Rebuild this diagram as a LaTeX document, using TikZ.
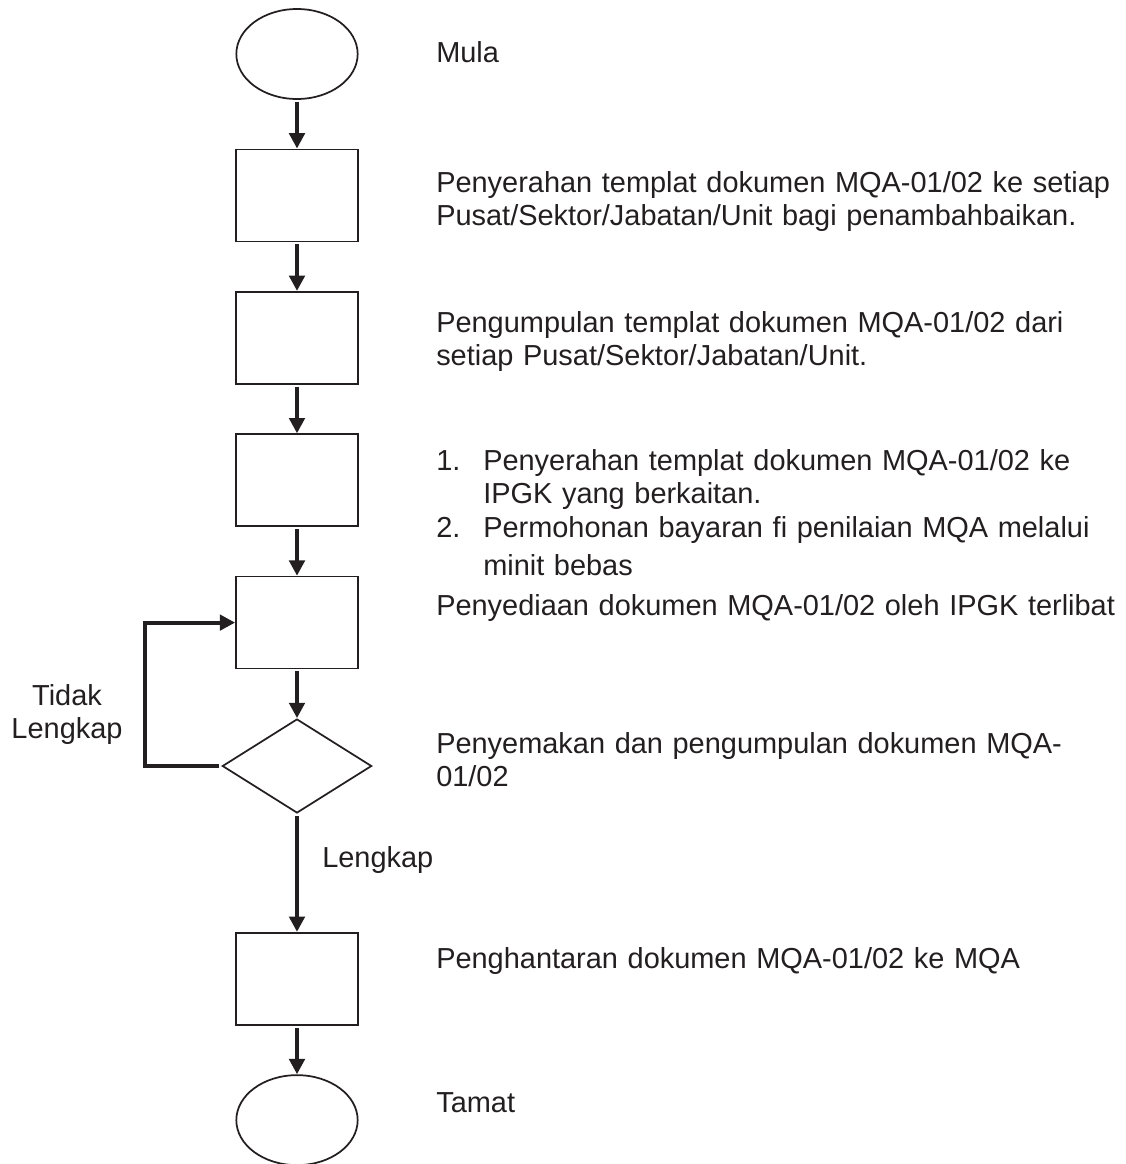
\documentclass[tikz,border=0pt]{standalone}
\usepackage{fontspec}
\setmainfont{Liberation Sans}
\usetikzlibrary{shapes.geometric, arrows.meta, positioning}

\definecolor{ink}{RGB}{35,31,32}

\begin{document}
\begin{tikzpicture}[
    x=0.75pt, y=-0.75pt,
    node distance=36.5pt,
    term/.style={ellipse, draw=ink, line width=1.3pt, inner sep=0pt, minimum width=91pt, minimum height=67.5pt},
    box/.style={rectangle, draw=ink, line width=1.3pt, inner sep=0pt, minimum width=91.5pt, minimum height=69pt},
    check/.style={diamond, draw=ink, line width=1.3pt, inner sep=0pt, minimum width=112pt, minimum height=70.5pt},
    desc/.style={anchor=base west, inner sep=0pt, text width=560pt, align=left, text=ink, font=\fontsize{21.7}{24.75}\selectfont},
    tag/.style={inner sep=0pt, text=ink, font=\fontsize{21.7}{24.75}\selectfont},
    arrow/.style={-{Triangle[length=11.5pt, width=11.5pt]}, draw=ink, line width=3pt, shorten <=1.5pt}
  ]
  \useasboundingbox (0,0) rectangle (1126,1164);

  % ============ FLOW ============
  \node[term] (start) at (297,54) {};
  \node[box, below=of start] (send) {};
  \node[box, below=of send] (collect) {};
  \node[box, below=of collect] (forward) {};
  \node[box, below=of forward] (prepare) {};
  \node[check, below=of prepare] (review) {};
  \node[box, below=88.5pt of review] (deliver) {};
  \node[term, below=of deliver] (finish) {};

  % Arrows
  \draw[arrow] (start) -- (send);
  \draw[arrow] (send) -- (collect);
  \draw[arrow] (collect) -- (forward);
  \draw[arrow] (forward) -- (prepare);
  \draw[arrow] (prepare) -- (review);
  \draw[arrow] (review) -- (deliver);
  \draw[arrow] (deliver) -- (finish);

  % Loop back (Tidak Lengkap)
  \coordinate[xshift=-57pt] (back) at (review.west);
  \draw[arrow] (review.west) -- (back) |- (prepare.west);

  \node[tag, text width=100pt, align=center, anchor=base] (t-no) at (67,705) {Tidak\\Lengkap};
  \node[tag, anchor=base west] (t-yes) at (322,867) {Lengkap};

  % ============ DESCRIPTIONS ============
  \node[desc] (t-start) at (436,62) {Mula};
  \node[desc] (t-send) at (436,192) {Penyerahan templat dokumen MQA-01/02 ke setiap\\Pusat/Sektor/Jabatan/Unit bagi penambahbaikan.};
  \node[desc] (t-collect) at (436,332) {Pengumpulan templat dokumen MQA-01/02 dari\\setiap Pusat/Sektor/Jabatan/Unit.};
  \node[desc] (t-forward) at (436,470) {%
    \makebox[35.25pt][l]{1.}Penyerahan templat dokumen MQA-01/02 ke\\
    \hspace*{35.25pt}IPGK yang berkaitan.\\[0.75pt]
    \makebox[35.25pt][l]{2.}Permohonan bayaran fi penilaian MQA melalui\\[3.75pt]
    \hspace*{35.25pt}minit bebas};
  \node[desc] (t-prepare) at (436,615) {Penyediaan dokumen MQA-01/02 oleh IPGK terlibat};
  \node[desc] (t-review) at (436,753) {Penyemakan dan pengumpulan dokumen MQA-\\01/02};
  \node[desc] (t-deliver) at (436,968) {Penghantaran dokumen MQA-01/02 ke MQA};
  \node[desc] (t-finish) at (436,1112) {Tamat};

\end{tikzpicture}
\end{document}
